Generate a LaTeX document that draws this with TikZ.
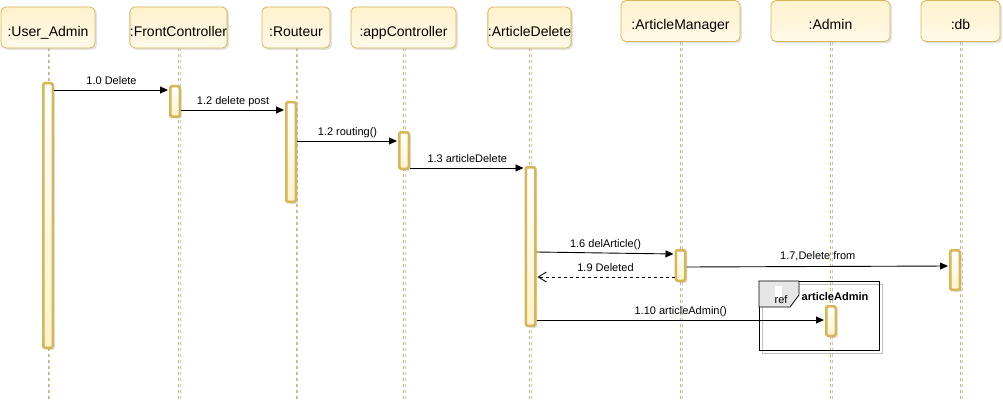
\documentclass[tikz,border=0pt]{standalone}
\usepackage{fontspec}
\setmainfont{Liberation Sans}
\usetikzlibrary{arrows.meta,shadows}
\definecolor{gold}{HTML}{D6B656}
\definecolor{cream}{HTML}{FFF2CC}
\definecolor{creamlt}{HTML}{FFF9E8}
\definecolor{tabgray}{HTML}{E6E6E6}
\begin{document}
\begin{tikzpicture}[x=1pt,y=-1pt,
 shd/.style={drop shadow={shadow xshift=2pt,shadow yshift=-2pt,opacity=0.22}},
 hdr/.style={draw=gold, line width=0.8pt, rounded corners=5pt, top color=cream, bottom color=creamlt, shd,
   minimum height=41pt, inner sep=0pt, font=\fontsize{14}{16}\selectfont, text height=18pt, text depth=0pt},
 act/.style={draw=gold, line width=2.5pt, rounded corners=1.5pt, top color=white, bottom color=cream, shd,
   minimum width=9.5pt, inner sep=0pt},
 life/.style={draw=gold, dash pattern=on 3pt off 3pt, line width=0.8pt},
 lifesh/.style={draw=black!22, dash pattern=on 3pt off 3pt, line width=0.8pt},
 msg/.style={draw=black, line width=0.9pt, shorten >=1pt, -{Triangle[length=8pt,width=7pt]}},
 ret/.style={draw=black, line width=0.9pt, dashed, shorten >=1pt, -{Straight Barb[length=8pt,width=10pt]}},
 lbl/.style={font=\fontsize{11}{13}\selectfont, inner sep=0pt, text height=8pt, text depth=2.5pt, above=3pt}
]
\useasboundingbox (0,0) rectangle (1003,401);
\coordinate (bot) at (0,401);

% headers
\node[hdr, minimum width=94pt]  (h1) at (48,27.5)  {:User\_Admin};
\node[hdr, minimum width=97pt]  (h2) at (178.5,27.5) {:FrontController};
\node[hdr, minimum width=68pt]  (h3) at (296,27.5) {:Routeur};
\node[hdr, minimum width=105pt] (h4) at (403.5,27.5) {:appController};
\node[hdr, minimum width=81pt]  (h5) at (529.5,27.5) {:ArticleDelete};
\node[hdr, minimum width=119pt] (h6) at (680.5,21) {:ArticleManager};
\node[hdr, minimum width=119pt] (h7) at (830.5,21) {:Admin};
\node[hdr, minimum width=79pt]  (h8) at (960.5,21) {:db};

% lifelines
\foreach \h in {h1,h2,h3,h4,h5,h6,h7,h8}{
  \draw[lifesh] ([xshift=1.5pt]\h.south) -- ([xshift=1.5pt]\h.south |- bot);
  \draw[life] (\h.south) -- (\h.south |- bot);
}

% ref frame
\draw[black!25, line width=0.8pt] (762,284) rectangle (882,353);
\draw[black, line width=0.9pt] (759,281) rectangle (879,350);
\draw[black, line width=0.8pt, fill=tabgray] (759,281) -- (799,281) -- (799,295) -- (790,307) -- (759,307) -- cycle;
\fill[white] (775,286) rectangle (782,300);
\node[font=\fontsize{11}{13}\selectfont, inner sep=0pt] (reft) at (781,300) {ref};
\node[font=\fontsize{11}{13}\selectfont\bfseries, inner sep=0pt] (refn) at (835,297) {articleAdmin};

% activations
\node[act, minimum height=264.5pt] (a1) at (48,215.5) {};
\node[act, minimum height=30.5pt]  (a2) at (175,101.5) {};
\node[act, minimum height=99.5pt]  (a3) at (291,152) {};
\node[act, minimum height=36.5pt]  (a4) at (404,150.5) {};
\node[act, minimum height=158.5pt] (a5) at (530.5,246.5) {};
\node[act, minimum height=30.5pt]  (a6) at (680.5,265.5) {};
\node[act, minimum height=29.5pt]  (a7) at (831,321) {};
\node[act, minimum height=39.5pt]  (a8) at (955,270) {};

% messages
\draw[msg] (a1.east |- 0,90) -- node[lbl] (l1) {1.0 Delete} (a2.west |- 0,90);
\draw[msg] (a2.east |- 0,110) -- node[lbl] (l2) {1.2 delete post} (a3.west |- 0,110);
\draw[msg] (a3.east |- 0,141) -- node[lbl] (l3) {1.2 routing()} (a4.west |- 0,141);
\draw[msg] (a4.east |- 0,168) -- node[lbl] (l4) {1.3 articleDelete} (a5.west |- 0,168);
\draw[msg] (a5.east |- 0,252) -- node[lbl] (l5) {1.6 delArticle()} (a6.west |- 0,254);
\draw[ret] (a6.west |- 0,277) -- node[lbl] (l6) {1.9 Deleted} (a5.east |- 0,277);
\draw[msg] (a6.east |- 0,267) -- node[lbl, above=1.5pt] (l7) {1.7,Delete from} (a8.west |- 0,266);
\draw[msg] (a5.east |- 0,320) -- node[lbl] (l8) {1.10 articleAdmin()} (a7.west |- 0,320);
\end{tikzpicture}
\end{document}
